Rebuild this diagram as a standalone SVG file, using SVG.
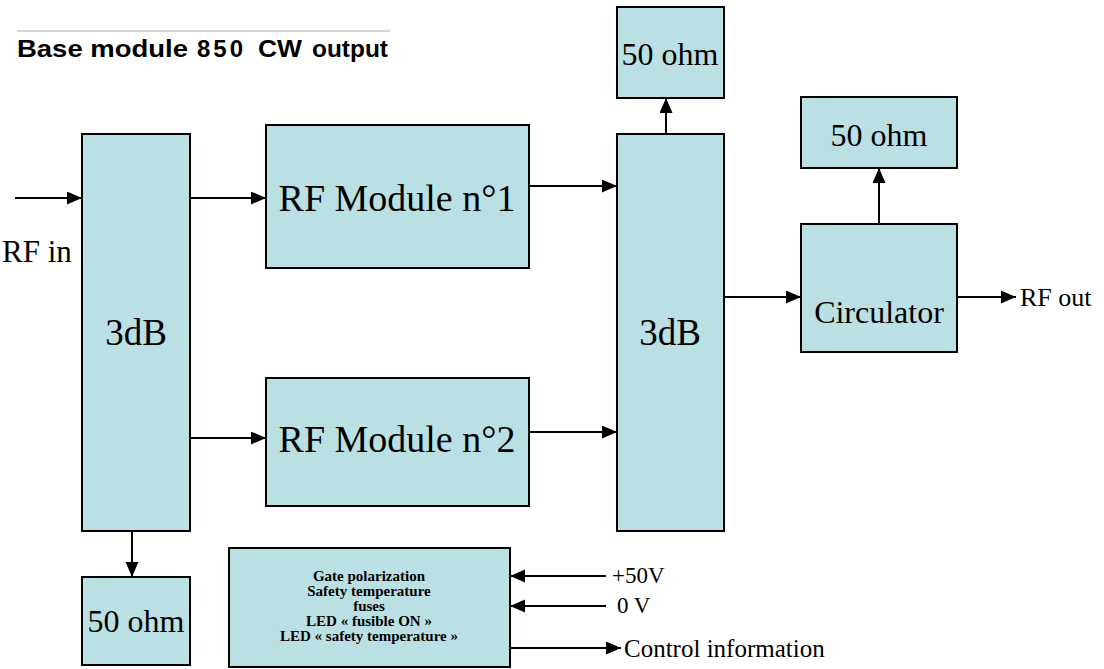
<svg xmlns="http://www.w3.org/2000/svg" width="1104" height="669" viewBox="0 0 1104 669">
<style>
.box{fill:#BBE0E3;stroke:#000;stroke-width:2}
.t{font-family:"Liberation Serif","Times New Roman",serif;fill:#000}
.big{font-size:37px}
.mid{font-size:32px}
.ctl{font-family:"Liberation Serif","Times New Roman",serif;font-weight:bold;font-size:15px}
.title{font-family:"Liberation Sans",Arial,sans-serif;font-weight:bold;font-size:24px}
.c{stroke:#000;stroke-width:2;fill:none;marker-end:url(#ah)}
</style>
<defs>
<marker id="ah" markerUnits="userSpaceOnUse" markerWidth="16" markerHeight="14" refX="15" refY="6.5" orient="auto">
<path d="M0,0 L15,6.5 L0,13 z" fill="#000"/>
</marker>
</defs>
<rect width="1104" height="669" fill="#fff"/>
<g id="title">
<line x1="17" y1="31" x2="390" y2="31" stroke="#aaa" stroke-width="1"/>
<text class="title" x="17" y="57" textLength="171" lengthAdjust="spacingAndGlyphs">Base module</text>
<text class="title" x="197" y="57" textLength="46" lengthAdjust="spacing">850</text>
<text class="title" x="258" y="57" textLength="44" lengthAdjust="spacingAndGlyphs">CW</text>
<text class="title" x="312" y="57" textLength="76" lengthAdjust="spacingAndGlyphs">output</text>
</g>
<g id="split3dB">
<rect class="box" x="82" y="134" width="108" height="397"/>
<text class="t big" x="136" y="345" text-anchor="middle">3dB</text>
</g>
<g id="load1">
<rect class="box" x="82" y="577" width="108" height="88"/>
<text class="t mid" x="136" y="632" text-anchor="middle">50 ohm</text>
</g>
<g id="rfmod1">
<rect class="box" x="266" y="125" width="263" height="143"/>
<text class="t" font-size="38" x="397" y="211" text-anchor="middle">RF Module n°1</text>
</g>
<g id="rfmod2">
<rect class="box" x="266" y="378" width="263" height="128"/>
<text class="t" font-size="38" x="397" y="452" text-anchor="middle">RF Module n°2</text>
</g>
<g id="comb3dB">
<rect class="box" x="617" y="134" width="107" height="397"/>
<text class="t big" x="670" y="345" text-anchor="middle">3dB</text>
</g>
<g id="load2">
<rect class="box" x="617" y="7" width="107" height="91"/>
<text class="t mid" x="670" y="65" text-anchor="middle">50 ohm</text>
</g>
<g id="load3">
<rect class="box" x="801" y="97" width="156" height="71"/>
<text class="t mid" x="879" y="146" text-anchor="middle">50 ohm</text>
</g>
<g id="circulator">
<rect class="box" x="801" y="224" width="156" height="128"/>
<text class="t mid" x="879" y="323" text-anchor="middle">Circulator</text>
</g>
<g id="control">
<rect class="box" x="229" y="548" width="281" height="119"/>
<text class="ctl" x="369" y="581" text-anchor="middle">Gate polarization</text>
<text class="ctl" x="369" y="596" text-anchor="middle">Safety temperature</text>
<text class="ctl" x="369" y="611" text-anchor="middle">fuses</text>
<text class="ctl" x="369" y="626" text-anchor="middle">LED «  fusible ON »</text>
<text class="ctl" x="369" y="641" text-anchor="middle">LED « safety temperature »</text>
</g>
<g id="labels">
<text class="t" x="2" y="262" font-size="31">RF in</text>
<text class="t" x="1020" y="306" font-size="26">RF out</text>
<text class="t" x="612" y="583" font-size="23">+50V</text>
<text class="t" x="617" y="613" font-size="23">0 V</text>
<text class="t" x="624" y="657" font-size="25">Control information</text>
</g>
<g id="connectors">
<line class="c" x1="15" y1="198" x2="82" y2="198"/>
<line class="c" x1="190" y1="198" x2="266" y2="198"/>
<line class="c" x1="190" y1="438" x2="266" y2="438"/>
<line class="c" x1="529" y1="186" x2="617" y2="186"/>
<line class="c" x1="529" y1="432" x2="617" y2="432"/>
<line class="c" x1="666" y1="134" x2="666" y2="98"/>
<line class="c" x1="724" y1="297" x2="801" y2="297"/>
<line class="c" x1="879" y1="224" x2="879" y2="168"/>
<line class="c" x1="957" y1="297" x2="1016" y2="297"/>
<line class="c" x1="132" y1="531" x2="132" y2="577"/>
<line class="c" x1="606" y1="576" x2="510" y2="576"/>
<line class="c" x1="606" y1="606" x2="510" y2="606"/>
<line class="c" x1="510" y1="648" x2="621" y2="648"/>
</g>
</svg>
